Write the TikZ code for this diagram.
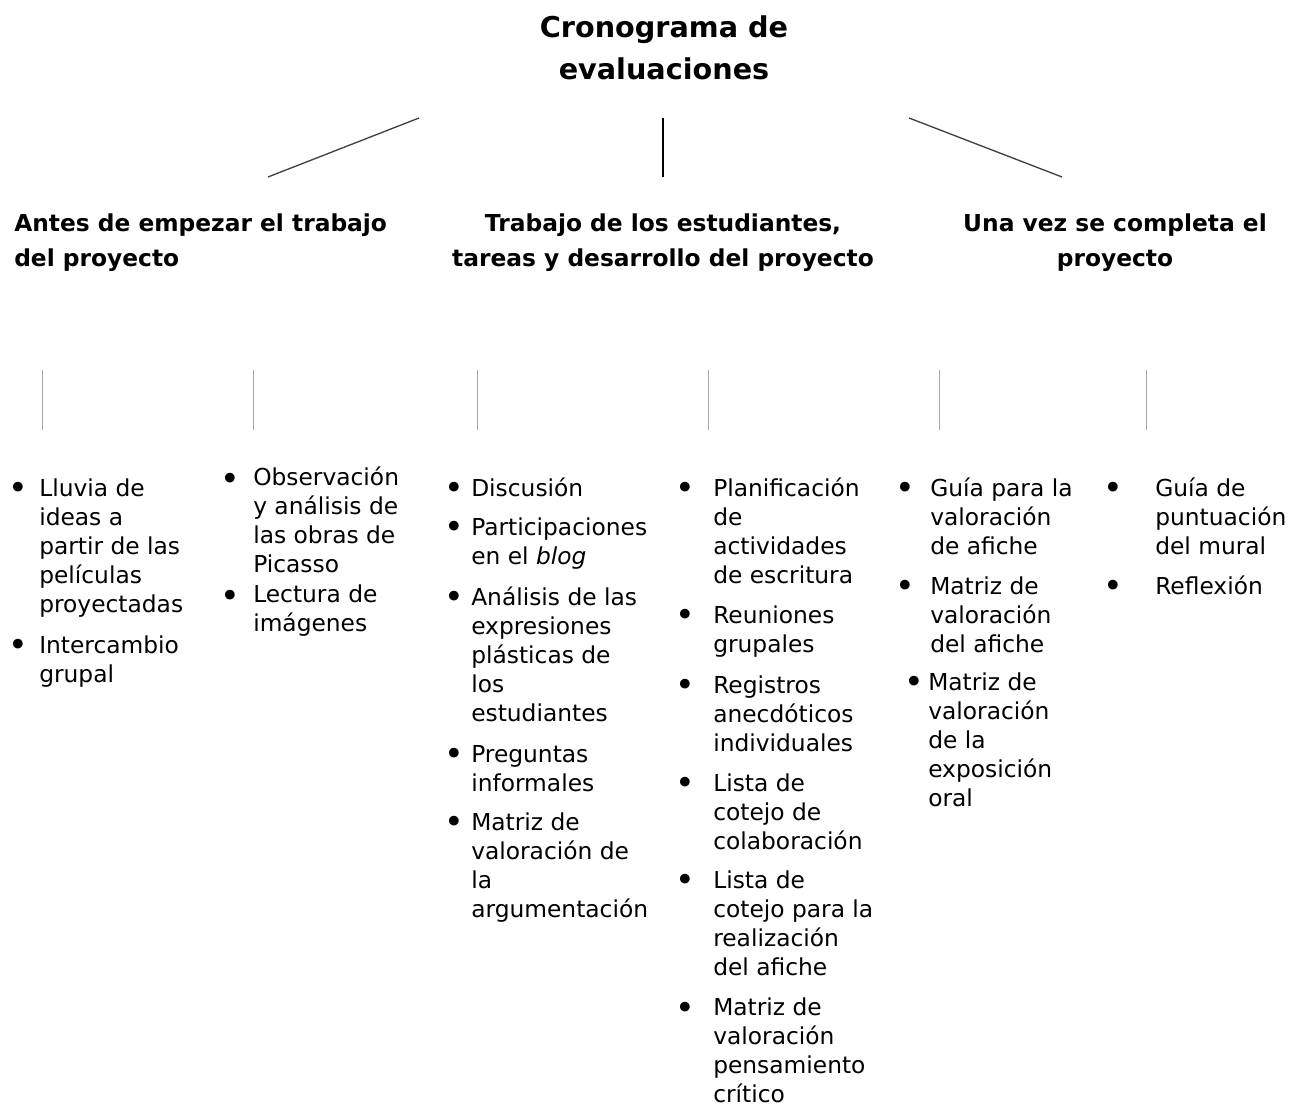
\documentclass[tikz,border=0pt]{standalone}
\usepackage{fontspec}
\setmainfont{DejaVu Sans}
\usetikzlibrary{calc}

\tikzset{
  title/.style={font=\fontsize{21.5}{31.5}\selectfont\bfseries, align=center, inner sep=0},
  head/.style={font=\fontsize{17.5}{26.25}\selectfont\bfseries, inner sep=0},
  entry/.style={font=\fontsize{17.5}{21.75}\selectfont, align=left, anchor=base west, inner sep=0},
  dot/.style={font=\fontsize{25}{25}\selectfont, anchor=base, inner sep=0},
  branch/.style={line width=1pt, black!75},
  tick/.style={line width=0.6pt, black!35}
}

\begin{document}
\begin{tikzpicture}[x=0.75pt, y=-0.75pt]
    \useasboundingbox (0,0) rectangle (1291,1105);

    % First the title (placed by the baseline of its last line)
    \node [title, anchor=base] (T) at (664,80) {Cronograma de\\evaluaciones};

    % The three branches
    \coordinate (B1a) at (419,118);
    \coordinate (B1b) at (268,177);
    \coordinate (B2a) at (663,118);
    \coordinate (B2b) at (663,177);
    \coordinate (B3a) at (909,118);
    \coordinate (B3b) at (1062,177);
    \draw[branch] (B1a) -- (B1b);
    \draw[branch, line width=1.4pt, black] (B2a) -- (B2b);
    \draw[branch] (B3a) -- (B3b);

    % Stages
    \node [head, align=left, anchor=base west] (H1) at (14,267)
      {Antes de empezar el trabajo\\del proyecto};
    \node [head, align=center, anchor=base] (H2) at (663,267)
      {Trabajo de los estudiantes,\\tareas y desarrollo del proyecto};
    \node [head, align=center, anchor=base] (H3) at (1115,267)
      {Una vez se completa el\\proyecto};

    % Small marks above each list
    \foreach \x in {42, 253, 477, 708, 939, 1146}
      \draw[tick] (\x,370) -- (\x,430);

    % Lists: entries sit on the baseline of their last line,
    % bullets on the baseline of the first one

    % Column 1
    \node [entry] (A1) at (39,612) {Lluvia de\\ideas a\\partir de las\\películas\\proyectadas};
    \node [entry] (A2) at (39,682) {Intercambio\\grupal};
    \foreach \y in {499, 656}
      \node [dot] at (18,\y) {•};

    % Column 2
    \node [entry] (B1) at (253,572) {Observación\\y análisis de\\las obras de\\Picasso};
    \node [entry] (B2) at (253,631) {Lectura de\\imágenes};
    \foreach \y in {490, 607}
      \node [dot] at (230,\y) {•};

    % Column 3
    \node [entry] (C1) at (471,496) {Discusión};
    \node [entry] (C2) at (471,564) {Participaciones\\en el \textit{blog}};
    \node [entry] (C3) at (471,721) {Análisis de las\\expresiones\\plásticas de\\los\\estudiantes};
    \node [entry] (C4) at (471,791) {Preguntas\\informales};
    \node [entry] (C5) at (471,917) {Matriz de\\valoración de\\la\\argumentación};
    \foreach \y in {499, 538, 608, 765, 833}
      \node [dot] at (454,\y) {•};

    % Column 4
    \node [entry] (D1) at (713,583) {Planificación\\de\\actividades\\de escritura};
    \node [entry] (D2) at (713,652) {Reuniones\\grupales};
    \node [entry] (D3) at (713,751) {Registros\\anecdóticos\\individuales};
    \node [entry] (D4) at (713,849) {Lista de\\cotejo de\\colaboración};
    \node [entry] (D5) at (713,975) {Lista de\\cotejo para la\\realización\\del afiche};
    \node [entry] (D6) at (713,1102) {Matriz de\\valoración\\pensamiento\\crítico};
    \foreach \y in {499, 626, 696, 794, 891, 1019}
      \node [dot] at (685,\y) {•};

    % Column 5
    \node [entry] (E1) at (930,554) {Guía para la\\valoración\\de afiche};
    \node [entry] (E2) at (930,652) {Matriz de\\valoración\\del afiche};
    \node [entry] (E3) at (928,806) {Matriz de\\valoración\\de la\\exposición\\oral};
    \foreach \y in {499, 597}
      \node [dot] at (905,\y) {•};
    \node [dot] at (914,693) {•};

    % Column 6
    \node [entry] (F1) at (1155,554) {Guía de\\puntuación\\del mural};
    \node [entry] (F2) at (1155,594) {Reflexión};
    \foreach \y in {499, 597}
      \node [dot] at (1113,\y) {•};
\end{tikzpicture}
\end{document}
